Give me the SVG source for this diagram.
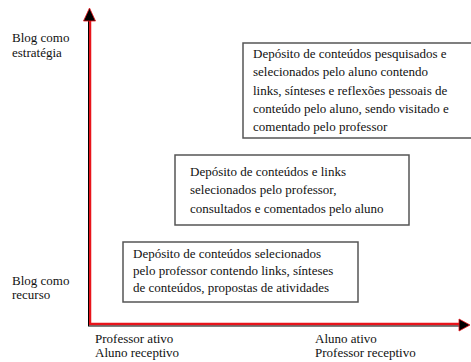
<svg xmlns="http://www.w3.org/2000/svg" width="471" height="362" viewBox="0 0 471 362">
<style>
text{font-family:"Liberation Serif","Times New Roman",serif;font-size:13px;fill:#111}
.box{fill:#fff;stroke:#555;stroke-width:1.5}
.ax{fill:none;stroke:#000;stroke-width:1}
.axr{fill:none;stroke:#e8141b;stroke-width:2.5}
.head{fill:#000;stroke:#e8141b;stroke-width:0.8}
</style>
<rect width="471" height="362" fill="#fff"/>
<g id="connectors">
<path class="axr" d="M90,324 V18"/>
<path class="axr" d="M89,324 H460"/>
<path class="ax" d="M88.5,326 V18"/>
<path class="ax" d="M88,326 H460"/>
<path class="head" d="M83.5,21 L89.5,8 L95.5,21 Z"/>
<path class="head" d="M459,319 L470,325 L459,331 Z"/>
</g>
<g id="label-estrategia" font-family="Liberation Serif, serif">
<text x="12" y="42">Blog como</text>
<text x="12" y="57">estratégia</text>
</g>
<g id="label-recurso" font-family="Liberation Serif, serif">
<text x="12" y="285">Blog como</text>
<text x="12" y="299">recurso</text>
</g>
<g id="label-professor-ativo" font-family="Liberation Serif, serif">
<text x="95" y="343">Professor ativo</text>
<text x="95" y="357">Aluno receptivo</text>
</g>
<g id="label-aluno-ativo" font-family="Liberation Serif, serif">
<text x="315" y="343">Aluno ativo</text>
<text x="315" y="357">Professor receptivo</text>
</g>
<g id="box-aluno" font-family="Liberation Serif, serif">
<rect class="box" x="243" y="43" width="232" height="95"/>
<text x="253" y="58">Depósito de conteúdos pesquisados e</text>
<text x="253" y="76">selecionados pelo aluno contendo</text>
<text x="253" y="95">links, sínteses e reflexões pessoais de</text>
<text x="253" y="113">conteúdo pelo aluno, sendo visitado e</text>
<text x="253" y="131">comentado pelo professor</text>
</g>
<g id="box-consulta" font-family="Liberation Serif, serif">
<rect class="box" x="175" y="155" width="234" height="70"/>
<text x="190" y="176">Depósito de conteúdos e links</text>
<text x="190" y="194">selecionados pelo professor,</text>
<text x="190" y="213">consultados e comentados pelo aluno</text>
</g>
<g id="box-professor" font-family="Liberation Serif, serif">
<rect class="box" x="123" y="242" width="235" height="60"/>
<text x="133" y="258">Depósito de conteúdos selecionados</text>
<text x="133" y="275">pelo professor contendo links, sínteses</text>
<text x="133" y="292">de conteúdos, propostas de atividades</text>
</g>
</svg>
